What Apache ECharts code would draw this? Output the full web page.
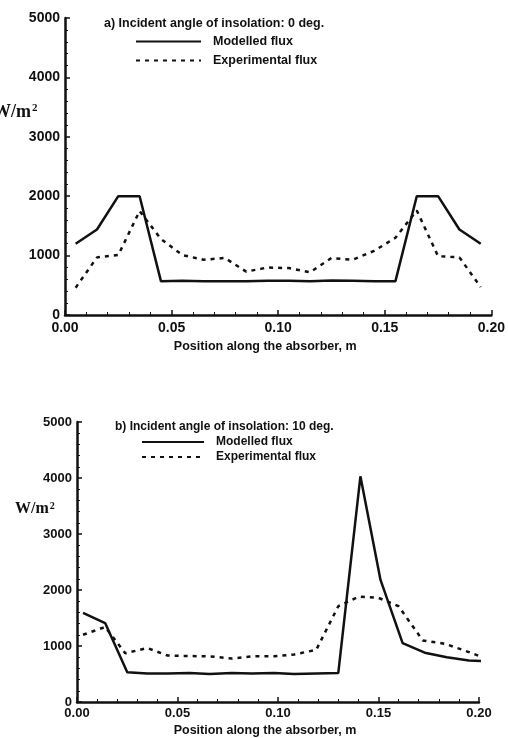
<!DOCTYPE html>
<html>
<head>
<meta charset="utf-8">
<script src="https://cdn.jsdelivr.net/npm/echarts@6/dist/echarts.min.js"></script>
<style>
html,body{margin:0;padding:0;background:#fff;}
#c{width:508px;height:738px;}
</style>
</head>
<body>
<div id="c"></div>
<script>
// ---- data ----
var xTickLabels = ['0.00', '0.05', '0.10', '0.15', '0.20'];
var yTickLabels = ['0', '1000', '2000', '3000', '4000', '5000'];
var seriesNames = ['Modelled flux', 'Experimental flux'];
var titleA = 'a) Incident angle of insolation: 0 deg.';
var titleB = 'b) Incident angle of insolation: 10 deg.';
var xName = 'Position along the absorber, m';

// chart a (0 deg)
var modelledA = [
  [0.005, 1200], [0.015, 1440], [0.025, 2000], [0.035, 2000], [0.045, 570],
  [0.055, 575], [0.065, 570], [0.075, 570], [0.085, 570], [0.095, 575],
  [0.105, 575], [0.115, 570], [0.125, 580], [0.135, 575], [0.145, 570],
  [0.155, 570], [0.165, 2000], [0.175, 2000], [0.185, 1440], [0.195, 1200]
];
var experimentalA = [
  [0.005, 460], [0.015, 970], [0.025, 1010], [0.035, 1750], [0.045, 1280],
  [0.055, 1010], [0.065, 930], [0.075, 960], [0.085, 730], [0.095, 800],
  [0.105, 790], [0.115, 720], [0.125, 960], [0.135, 930], [0.145, 1080],
  [0.155, 1300], [0.165, 1760], [0.175, 990], [0.185, 970], [0.195, 470]
];

// chart b (10 deg)
var modelledB = [
  [0.003, 1590], [0.014, 1410], [0.025, 530], [0.035, 510], [0.045, 510],
  [0.056, 520], [0.066, 500], [0.077, 520], [0.087, 510], [0.098, 520],
  [0.108, 500], [0.119, 510], [0.130, 520], [0.141, 4030], [0.151, 2180],
  [0.162, 1050], [0.173, 880], [0.184, 800], [0.195, 740], [0.201, 730]
];
var experimentalB = [
  [0.003, 1200], [0.014, 1340], [0.024, 870], [0.035, 965], [0.045, 830],
  [0.056, 820], [0.066, 815], [0.077, 775], [0.087, 815], [0.098, 815],
  [0.108, 850], [0.119, 930], [0.130, 1710], [0.140, 1880], [0.150, 1860],
  [0.160, 1710], [0.172, 1100], [0.183, 1040], [0.192, 930], [0.201, 810]
];

var INK = '#111';
var FONT = '"Liberation Sans", Arial, sans-serif';
var SERIF = '"Liberation Serif", "Times New Roman", serif';

function xAxisCfg(gi, labelSize, labelMargin, nameGap) {
  return {
    type: 'value', gridIndex: gi, min: 0, max: 0.2, interval: 0.05,
    name: xName, nameLocation: 'middle', nameGap: nameGap,
    nameTextStyle: { color: INK, fontSize: 12.5, fontWeight: 'bold', fontFamily: FONT, padding: [0, 26, 0, 0] },
    axisLine: { lineStyle: { color: INK, width: 2.5 } },
    axisTick: { inside: true, length: 5, lineStyle: { color: INK, width: 1.5 } },
    minorTick: { show: true, splitNumber: 5, length: 3, lineStyle: { color: INK, width: 1 } },
    splitLine: { show: false },
    axisLabel: {
      margin: labelMargin, color: INK, fontSize: labelSize, fontWeight: 'bold', fontFamily: FONT,
      formatter: function (v) { return xTickLabels[Math.round(v / 0.05)]; }
    }
  };
}
function yAxisCfg(gi, labelSize) {
  return {
    type: 'value', gridIndex: gi, min: 0, max: 5000, interval: 1000,
    axisLine: { show: true, lineStyle: { color: INK, width: 2.5 } },
    axisTick: { show: true, inside: true, length: 5, lineStyle: { color: INK, width: 1.5 } },
    minorTick: { show: true, splitNumber: 5, length: 3, lineStyle: { color: INK, width: 1 } },
    splitLine: { show: false },
    axisLabel: {
      margin: 5, color: INK, fontSize: labelSize, fontWeight: 'bold', fontFamily: FONT,
      formatter: function (v) { return yTickLabels[Math.round(v / 1000)]; }
    }
  };
}
function solid(name, data, idx) {
  return {
    name: name, type: 'line', xAxisIndex: idx, yAxisIndex: idx, data: data,
    symbol: 'none', lineStyle: { color: INK, width: 2.5 }, itemStyle: { color: INK }
  };
}
function dashed(name, data, idx) {
  return {
    name: name, type: 'line', xAxisIndex: idx, yAxisIndex: idx, data: data,
    symbol: 'none', lineStyle: { color: INK, width: 2.5, type: [4, 5] }, itemStyle: { color: INK }
  };
}

var chart = echarts.init(document.getElementById('c'));
chart.setOption({
  backgroundColor: '#fff',
  animation: false,
  title: [
    { text: titleA, left: 104, top: 17, padding: 0,
      textStyle: { color: INK, fontSize: 12.5, fontWeight: 'bold', fontFamily: FONT } },
    { text: titleB, left: 115, top: 421, padding: 0,
      textStyle: { color: INK, fontSize: 12, fontWeight: 'bold', fontFamily: FONT } }
  ],
  legend: [
    { orient: 'vertical', left: 135, top: 35, padding: 0, itemWidth: 65, itemHeight: 14, itemGap: 6,
      data: seriesNames, selectedMode: false, itemStyle: { opacity: 0 },
      textStyle: { color: INK, fontSize: 12.5, fontWeight: 'bold', fontFamily: FONT, padding: [0, 0, 0, 7] } },
    { orient: 'vertical', left: 141, top: 436, padding: 0, itemWidth: 62, itemHeight: 14, itemGap: 3,
      data: seriesNames, selectedMode: false, itemStyle: { opacity: 0 },
      textStyle: { color: INK, fontSize: 12, fontWeight: 'bold', fontFamily: FONT, padding: [0, 0, 0, 7] } }
  ],
  grid: [
    { left: 65, top: 18, width: 428, height: 297 },
    { left: 77, top: 422, width: 402, height: 281 }
  ],
  xAxis: [xAxisCfg(0, 14, 6, 25), xAxisCfg(1, 13, 5, 22)],
  yAxis: [yAxisCfg(0, 14), yAxisCfg(1, 13)],
  graphic: [
    { type: 'text', left: -7, top: 103,
      style: { rich: { a: { fontSize: 18, fontWeight: 'bold', fontFamily: SERIF, fill: INK },
                       s: { fontSize: 11, fontWeight: 'bold', fontFamily: SERIF, fill: INK, verticalAlign: 'top', padding: [0, 0, 6, 1] } },
               text: '{a|W/m}{s|2}' } },
    { type: 'text', left: 15, top: 501,
      style: { rich: { a: { fontSize: 16, fontWeight: 'bold', fontFamily: SERIF, fill: INK },
                       s: { fontSize: 10, fontWeight: 'bold', fontFamily: SERIF, fill: INK, verticalAlign: 'top', padding: [0, 0, 6, 1] } },
               text: '{a|W/m}{s|2}' } }
  ],
  series: [
    solid(seriesNames[0], modelledA, 0),
    dashed(seriesNames[1], experimentalA, 0),
    solid(seriesNames[0], modelledB, 1),
    dashed(seriesNames[1], experimentalB, 1)
  ]
});
</script>
</body>
</html>
